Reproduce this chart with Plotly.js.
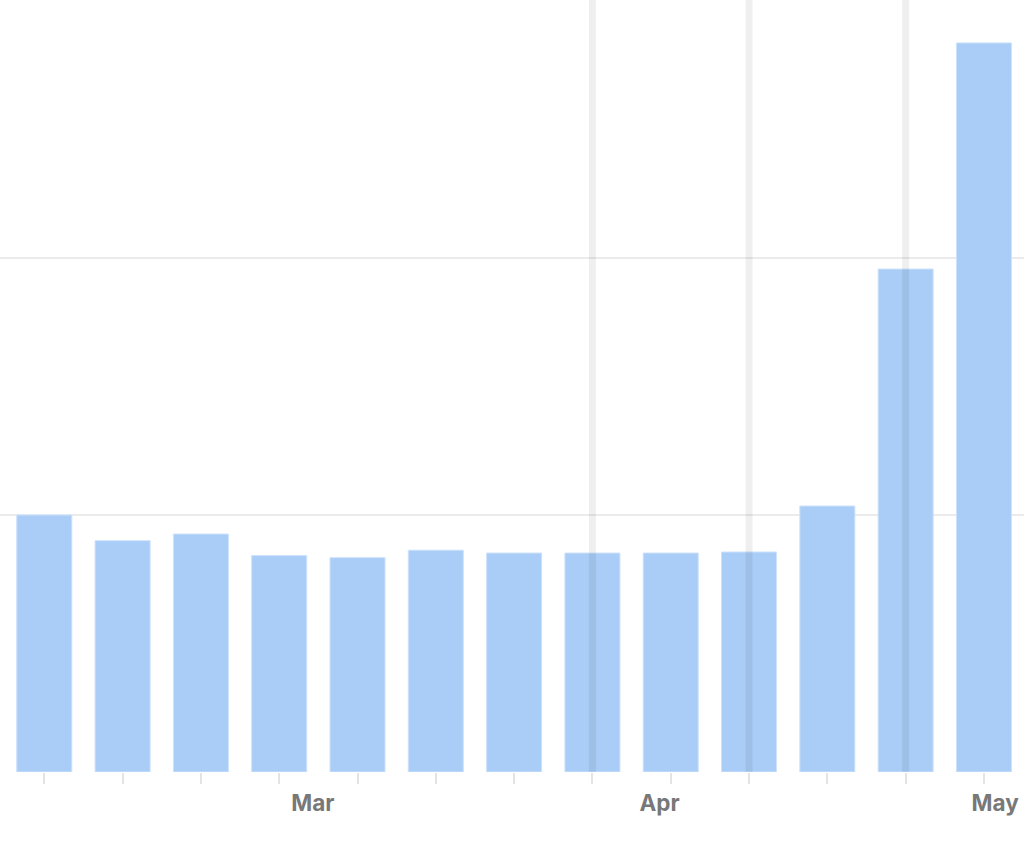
<!DOCTYPE html>
<html>
<head>
<meta charset="utf-8">
<script src="https://cdn.plot.ly/plotly-3.0.1.min.js"></script>
<style>
  html, body { margin: 0; padding: 0; background: #ffffff; }
  #chart { width: 1024px; height: 843px; }
</style>
</head>
<body>
<div id="chart"></div>
<script>
// Weekly periods (bar centre dates)
const weeks = [
  '2020-02-06', '2020-02-13', '2020-02-20', '2020-02-27', '2020-03-05',
  '2020-03-12', '2020-03-19', '2020-03-26', '2020-04-02', '2020-04-09',
  '2020-04-16', '2020-04-23', '2020-04-30'
];
// Weekly values (gridlines every 10 units)
const values = [10.0, 9.0, 9.26, 8.42, 8.34, 8.63, 8.52, 8.52, 8.52, 8.56, 10.35, 19.57, 28.37];
// Month labels on the x axis
const monthTicks = ['2020-03-01', '2020-04-01', '2020-05-01'];
const monthLabels = ['Mar', 'Apr', 'May'];
// Highlighted weeks (vertical marker lines)
const markerWeeks = ['2020-03-26', '2020-04-09', '2020-04-23'];

const DAY = 86400000;

const trace = {
  type: 'bar',
  x: weeks,
  y: values,
  width: weeks.map(() => 4.92 * DAY),
  marker: {
    color: '#a9cdf6',
    line: { color: '#cde2fb', width: 1 }
  },
  hoverinfo: 'x+y'
};

const shapes = markerWeeks.map(d => ({
  type: 'line',
  xref: 'x', yref: 'paper',
  x0: d, x1: d, y0: 0, y1: 1.003,
  line: { color: 'rgba(0,0,0,0.062)', width: 7 },
  layer: 'above'
}));

const layout = {
  width: 1024,
  height: 843,
  margin: { l: 0, r: 0, t: 1, b: 71, pad: 0 },
  paper_bgcolor: '#ffffff',
  plot_bgcolor: '#ffffff',
  showlegend: false,
  xaxis: {
    type: 'date',
    range: ['2020-02-02 00:58', '2020-05-03 13:55'],
    tickvals: monthTicks,
    ticktext: monthLabels,
    ticks: 'outside',
    ticklen: 11,
    tickcolor: 'rgba(0,0,0,0)',
    tickfont: { family: 'Inter, "Liberation Sans", sans-serif', size: 22.5, color: '#787878', weight: 700 },
    showgrid: false,
    zeroline: false,
    showline: false,
    minor: {
      ticks: 'outside',
      tick0: weeks[0],
      dtick: 7 * DAY,
      ticklen: 11,
      tickwidth: 2,
      tickcolor: '#e4e4e4',
      showgrid: false
    },
    fixedrange: true
  },
  yaxis: {
    range: [0, 30],
    dtick: 10,
    tick0: 0,
    showticklabels: false,
    ticks: '',
    showgrid: true,
    gridcolor: '#ebebeb',
    gridwidth: 2,
    zeroline: false,
    showline: false,
    fixedrange: true
  },
  shapes: shapes
};

Plotly.newPlot('chart', [trace], layout, { displayModeBar: false, staticPlot: true });
</script>
</body>
</html>
